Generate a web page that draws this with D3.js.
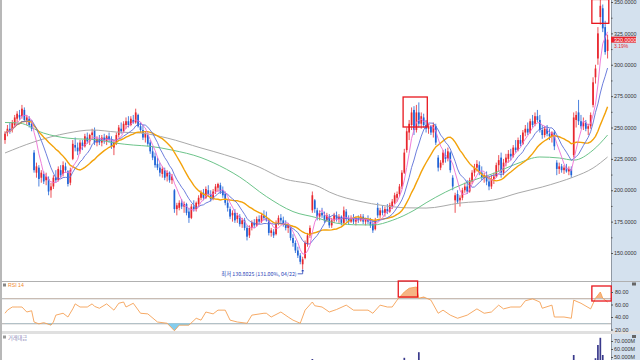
<!DOCTYPE html>
<html>
<head>
<meta charset="utf-8">
<script src="https://cdn.jsdelivr.net/npm/d3@7"></script>
<style>
body { margin: 0; background: #fff; }
svg { display: block; font-family: "Liberation Sans", "DejaVu Sans", sans-serif; }
</style>
</head>
<body>
<svg id="chart" width="640" height="360"></svg>
<script>
/**
 * Data
 */
// daily candles, oldest first: [open, high, low, close]
var candles = [
    [240,247,237,245],[246,252,243,249],[249,254,245,247],[248,256,246,254],[252,260,250,258],
    [257,263,254,261],[260,264,256,258],[259,268,257,265],[264,266,255,256],[256,260,252,258],
    [257,259,250,252],[253,256,247,249],[230,232,214,216],[214,222,210,219],[218,220,203,209],
    [210,216,206,214],[213,215,205,207],[208,214,204,211],[209,211,196,199],[200,206,194,203],
    [203,212,201,210],[210,216,206,208],[208,219,207,217],[216,220,210,212],[213,223,211,220],
    [219,222,214,216],[215,216,203,205],[206,218,204,216],[225,240,224,237],[236,242,231,234],
    [234,238,228,231],[231,240,229,238],[238,240,232,235],[235,245,234,243],[242,246,237,239],
    [239,245,236,244],[244,249,240,246],[248,250,236,238],[238,243,235,241],[241,244,236,238],
    [238,244,235,242],[242,245,237,239],[239,244,236,243],[243,246,238,240],[240,243,233,235],
    [234,240,228,238],[238,246,236,244],[244,252,242,250],[249,254,245,247],[247,255,246,253],
    [252,258,249,255],[255,259,250,252],[252,259,251,257],[256,260,253,254],[254,265,253,262],
    [260,261,250,251],[251,254,246,248],[248,252,240,242],[242,247,238,245],[244,246,235,237],
    [238,240,229,231],[231,235,224,226],[227,230,218,220],[221,226,216,218],[218,222,211,214],
    [213,219,210,217],[216,218,208,210],[211,216,207,214],[214,215,206,208],[208,213,205,211],
    [200,201,182,185],[185,190,180,188],[186,192,184,190],[190,193,185,187],[187,191,182,189],
    [189,190,180,182],[183,186,174,178],[178,189,177,187],[187,192,183,185],[185,191,183,190],
    [189,196,187,194],[194,200,192,198],[198,201,192,194],[194,203,193,201],[200,204,195,197],
    [197,200,191,193],[193,201,192,199],[199,205,197,203],[202,206,199,205],[204,206,197,199],
    [200,203,194,196],[197,199,188,190],[190,193,183,186],[185,187,177,179],[180,184,175,182],
    [182,185,174,176],[177,182,174,180],[179,181,171,173],[173,178,170,176],[176,178,168,170],
    [170,172,160,163],[164,172,162,170],[170,176,168,174],[174,177,170,172],[172,179,171,177],
    [177,180,173,175],[175,182,174,180],[180,184,176,178],[178,183,175,176],[176,178,164,166],
    [166,170,163,168],[167,169,162,164],[165,176,164,174],[174,180,172,178],[178,181,174,176],
    [176,179,171,173],[173,176,168,170],[170,174,166,172],[171,172,160,162],[162,165,155,158],
    [158,160,150,152],[152,155,146,148],[148,150,141,143],[141,147,137,145],[146,160,145,158],
    [157,166,155,164],[164,172,162,170],[184,199,182,196],[192,193,182,185],[184,186,176,179],
    [179,184,176,182],[182,186,178,180],[180,183,174,176],[176,182,175,180],[179,181,170,172],
    [172,178,170,176],[176,182,174,180],[180,183,175,177],[177,181,174,179],[179,180,172,174],
    [174,187,173,184],[183,185,175,177],[177,180,173,175],[175,180,174,178],[178,181,173,175],
    [175,179,172,177],[177,180,174,176],[176,181,175,179],[179,181,173,175],[175,178,172,177],
    [177,180,173,175],[175,178,170,172],[173,176,166,168],[169,178,168,176],[186,190,178,180],
    [180,186,178,184],[184,188,180,182],[182,187,179,185],[185,189,181,183],[183,190,182,188],
    [187,193,185,191],[190,198,189,196],[194,199,191,197],[197,205,195,203],[203,216,201,214],
    [214,233,213,230],[232,250,230,247],[246,256,240,253],[252,266,248,262],[264,267,244,248],
    [248,268,246,262],[262,270,250,253],[253,262,249,259],[258,261,250,252],[252,256,246,249],
    [249,253,245,251],[251,252,244,246],[246,254,242,252],[251,253,236,238],[226,228,215,218],
    [218,224,216,222],[222,232,220,230],[228,233,222,225],[225,234,223,231],[230,231,214,216],
    [210,212,200,203],[192,198,182,196],[197,200,189,191],[192,196,187,194],[194,202,192,200],
    [200,206,198,203],[203,208,197,199],[199,210,198,208],[207,216,205,214],[214,221,211,218],
    [218,224,215,221],[220,223,212,214],[214,219,208,210],[210,214,206,212],[212,215,204,207],
    [207,211,200,203],[203,212,201,209],[209,214,205,211],[211,222,210,220],[220,228,215,224],
    [226,230,210,214],[214,225,212,222],[222,229,219,226],[225,232,222,229],[229,233,224,227],
    [227,236,226,234],[234,240,230,232],[232,242,231,240],[240,244,235,237],[237,248,236,246],
    [246,252,243,249],[249,254,244,246],[246,257,245,255],[255,260,250,252],[253,262,251,259],
    [259,264,254,256],[256,260,246,248],[248,252,241,244],[244,251,242,249],[249,252,243,245],
    [245,249,240,243],[243,247,238,246],[246,248,232,235],[222,224,212,217],[217,222,213,219],
    [219,221,214,216],[216,220,213,218],[218,221,214,215],[215,219,212,217],[217,219,210,212],
    [228,262,226,258],[256,263,250,260],[262,272,252,255],[255,260,249,251],[251,258,248,254],
    [254,256,247,249],[249,253,244,251],[251,262,249,260],[268,290,266,286],[290,300,285,297],
    [305,330,300,325],[338,352,332,347],[345,348,326,329],[330,335,308,310.1],[311,324,305,320]
];

// trading value, millions
var volumes = [
    18,22,15,20,24,26,19,28,21,16, 14,17,38,25,22,18,15,17,24,20,
    16,14,19,13,17,12,18,15,32,21, 15,18,13,20,16,14,19,22,14,12,
    13,11,14,12,15,18,16,21,14,17, 15,13,16,12,24,19,14,17,12,15,
    18,16,20,14,17,13,15,12,14,11, 30,19,15,14,12,16,22,18,13,15,
    14,16,12,15,11,13,12,14,16,12, 13,15,17,20,14,16,12,15,11,14,
    21,16,13,12,15,11,14,12,10,16, 12,11,17,15,10,12,11,13,18,20,
    16,14,19,24,30,26,29,47.5,35,20, 16,14,12,15,13,11,14,10,12,11,
    22,15,11,12,10,13,11,12,10,11, 10,12,15,18,28,16,13,14,12,17,
    15,24,18,22,35,49,44,40,42,38, 30,56,28,22,18,16,14,19,21,33,
    18,22,16,19,24,28,36,20,15,17, 14,16,19,24,22,20,15,13,12,14,
    13,15,12,21,18,24,16,14,17,12, 15,13,18,14,22,20,15,24,19,23,
    18,16,14,12,11,13,12,17,30,15, 11,10,12,9,14,52.5,38,34,24,18,
    16,15,28,40,48.5,65,74,52.5,36,31
];

// long moving averages, read as [day, price]
var ma60Pts = [
    [0,254],[6,253.5],[16,245.5],[26,241.5],[39,240],[46,237.5],[53,236],[60,235],
    [69,232],[81,226],[86,222],[97,210.5],[108,195],[119,183],[129,178],[134,175],
    [144,172.5],[152,172.3],[160,176],[169,184],[174,190],[182,198.5],[190,205.5],
    [202,213.5],[212,221.5],[221,226.5],[229,225.7],[235,224],[243,232],[249,244]
];
var ma120Pts = [
    [0,229.7],[12,238.5],[26,245.6],[36,248],[46,246.4],[56,245.6],[67,241.6],
    [81,233.7],[86,231],[105,218.5],[114,210],[130,202.6],[134,198.6],[148,190.6],
    [155,188.2],[166,186],[174,185.8],[188,189.8],[202,192.3],[212,197.8],
    [222,202.6],[229,206.6],[235,210.6],[243,217.7],[249,226.5]
];

// RSI 14, read as [day, value]
var rsiPts = [
    [0,46],[1,51],[3,56],[5,56],[7,56],[9,48],[11,50],[12,32],[14,29],[16,31],
    [19,27],[20,32],[21,43],[24,46],[26,40],[28,53],[29,61],[31,56],[34,56],[36,61],
    [37,57],[39,54],[42,61],[45,51],[47,62],[49,64],[50,56],[53,62],[56,46],[59,45],
    [63,32],[67,30],[70,18],[72,27],[76,27],[79,38],[81,35],[83,48],[86,45],[88,51],
    [91,51],[93,35],[96,32],[100,30],[102,43],[107,46],[108,46],[110,40],[114,48],
    [117,40],[119,35],[122,30],[124,51],[127,64],[128,58],[131,56],[134,48],[137,52],
    [141,59],[144,51],[150,51],[152,46],[155,59],[158,56],[160,56],[162,67],[165,80],
    [167,86],[170,88],[171,70],[173,72],[176,67],[179,46],[181,51],[184,43],[187,38],
    [191,43],[195,53],[198,46],[201,48],[204,59],[206,53],[209,56],[213,56],[215,66],
    [218,69],[221,64],[222,54],[226,59],[227,40],[231,40],[234,38],[235,67],[238,62],
    [242,53],[244,70],[246,80],[247,70],[249,64]
];

var maPeriods = [5, 10, 20];
var maColors = ["#ec6fd4", "#5c6fd8", "#f3a20a"];

var priceTicks = [150, 175, 200, 225, 250, 275, 300, 325, 350];
var rsiTicks = [20, 40, 60, 80];
var rsiLevels = [30, 70];
var volTicks = [50, 60, 70];

// highlighted areas: [first day, last day, low, high]
var priceBoxes = [[165, 174, 250.4, 274.3], [243, 249, 333, 352]];
var rsiBoxes = [[163, 170, 72, 97.6], [243, 250, 65.6, 89.6]];

var lowNote = "최저 130.8025 (131.00%, 04/22)";
var rsiTitle = "RSI 14";
var volTitle = "거래대금";

/**
 * Layout
 */
var W = 640, H = 360;
var axisX = 611;
var mainBottom = 281;
var upColor = "#e8262d", downColor = "#1f63d6";

var svg = d3.select("#chart");
var N = candles.length;

var x = d3.scaleLinear().domain([-0.5, N - 0.5]).range([3.8, 608.8]);
var step = x(1) - x(0);
var yPrice = d3.scaleLinear().domain([150, 350]).range([253, 2]);
var yRsi = d3.scaleLinear().domain([20, 80]).range([329.5, 292]);
var yVol = d3.scaleLinear().domain([50, 70]).range([357, 341]);

var closes = candles.map(function(d) { return d[3]; });

// axis strip
svg.append("rect").attr("x", axisX).attr("y", 0)
    .attr("width", W - axisX).attr("height", H).attr("fill", "#d4e1ee");
svg.append("line").attr("x1", axisX + 0.5).attr("x2", axisX + 0.5)
    .attr("y1", 0).attr("y2", H).attr("stroke", "#8f98a3");
svg.append("rect").attr("x", 0).attr("y", 0).attr("width", 2).attr("height", H)
    .attr("fill", "#b8b8b8");

// panel separators
svg.append("line").attr("x1", 2).attr("x2", W).attr("y1", mainBottom + 0.5).attr("y2", mainBottom + 0.5)
    .attr("stroke", "#b0b0b0");
svg.append("rect").attr("x", 2).attr("y", 331).attr("width", W - 2).attr("height", 3)
    .attr("fill", "#e0e0e0");

// clip paths
var defs = svg.append("defs");
defs.append("clipPath").attr("id", "clipMain").append("rect")
    .attr("x", 2).attr("y", 0).attr("width", axisX - 2).attr("height", mainBottom);
defs.append("clipPath").attr("id", "clipHigh").append("rect")
    .attr("x", 2).attr("y", mainBottom).attr("width", axisX - 2).attr("height", yRsi(70) - mainBottom);
defs.append("clipPath").attr("id", "clipLow").append("rect")
    .attr("x", 2).attr("y", yRsi(30)).attr("width", axisX - 2).attr("height", 331 - yRsi(30));
defs.append("clipPath").attr("id", "clipVol").append("rect")
    .attr("x", 2).attr("y", 334).attr("width", axisX - 2).attr("height", H - 334);

/**
 * Price panel
 */
var gMain = svg.append("g").attr("clip-path", "url(#clipMain)");

var candleG = gMain.append("g").selectAll("g")
    .data(candles)
    .enter()
    .append("g");

candleG.append("line")
    .attr("x1", function(d, i) { return x(i); })
    .attr("x2", function(d, i) { return x(i); })
    .attr("y1", function(d) { return yPrice(d[1]); })
    .attr("y2", function(d) { return yPrice(d[2]); })
    .attr("stroke", function(d) { return d[3] >= d[0] ? upColor : downColor; })
    .attr("stroke-width", 0.8);

candleG.append("rect")
    .attr("x", function(d, i) { return x(i) - 0.85; })
    .attr("width", 1.7)
    .attr("y", function(d) { return yPrice(Math.max(d[0], d[3])); })
    .attr("height", function(d) { return Math.max(1, Math.abs(yPrice(d[0]) - yPrice(d[3]))); })
    .attr("fill", function(d) { return d[3] >= d[0] ? upColor : downColor; });

// long averages (read points)
var ptLine = d3.line()
    .curve(d3.curveMonotoneX)
    .x(function(d) { return x(d[0]); })
    .y(function(d) { return yPrice(d[1]); });

gMain.append("path").attr("d", ptLine(ma120Pts))
    .attr("fill", "none").attr("stroke", "#a9a9a9").attr("stroke-width", 1);
gMain.append("path").attr("d", ptLine(ma60Pts))
    .attr("fill", "none").attr("stroke", "#6cc48a").attr("stroke-width", 1);

// short averages computed from closes
var maLine = d3.line()
    .x(function(d, i) { return x(i); })
    .y(function(d) { return yPrice(d); });

maPeriods.slice().reverse().forEach(function(p, k) {
    var idx = maPeriods.length - 1 - k;
    var ma = closes.map(function(c, i) {
        return d3.mean(closes.slice(Math.max(0, i - p + 1), i + 1));
    });
    gMain.append("path").attr("d", maLine(ma))
        .attr("fill", "none")
        .attr("stroke", maColors[idx])
        .attr("stroke-width", p === 20 ? 1.4 : 0.9);
});

// highlight boxes
svg.append("g").selectAll("rect")
    .data(priceBoxes)
    .enter()
    .append("rect")
    .attr("x", function(d) { return x(d[0]) - step / 2; })
    .attr("y", function(d) { return yPrice(d[3]); })
    .attr("width", function(d) { return x(d[1]) - x(d[0]) + step; })
    .attr("height", function(d) { return yPrice(d[2]) - yPrice(d[3]); })
    .attr("fill", "none").attr("stroke", "#e8161d").attr("stroke-width", 1.3);

// lowest price note
var lowIdx = d3.minIndex(candles, function(d) { return d[2]; });
var lx = x(lowIdx), ly = yPrice(candles[lowIdx][2]);
svg.append("text")
    .attr("x", lx - 6).attr("y", ly + 6.5)
    .attr("text-anchor", "end")
    .attr("font-size", 5.3)
    .attr("font-family", "'Noto Sans CJK KR', sans-serif")
    .attr("fill", "#2a45b8")
    .text(lowNote);
svg.append("path")
    .attr("d", "M" + (lx - 5) + "," + (ly + 4.5) + "H" + lx + "V" + (ly + 1.5))
    .attr("fill", "none").attr("stroke", "#2a45b8").attr("stroke-width", 0.8);
svg.append("path")
    .attr("d", "M" + (lx - 1.5) + "," + (ly + 2) + "L" + lx + "," + ly + "L" + (lx + 1.5) + "," + (ly + 2) + "Z")
    .attr("fill", "#2a45b8");

// price axis
var priceAxis = d3.axisRight(yPrice)
    .tickValues(priceTicks)
    .tickSize(2).tickSizeOuter(0).tickPadding(1)
    .tickFormat(d3.format(".4f"));
var gPA = svg.append("g").attr("transform", "translate(" + axisX + ",0)").call(priceAxis);
gPA.select(".domain").remove();
gPA.selectAll("line").attr("stroke", "#555");
gPA.selectAll("text").attr("font-size", 5.4).attr("fill", "#333");

var minorAxis = d3.axisRight(yPrice)
    .tickValues(priceTicks.slice(0, -1).map(function(d) { return d + 12.5; }))
    .tickSize(1.5).tickSizeOuter(0).tickFormat("");
var gMinor = svg.append("g").attr("transform", "translate(" + axisX + ",0)").call(minorAxis);
gMinor.select(".domain").remove();
gMinor.selectAll("line").attr("stroke", "#555");

// last price tag
var last = closes[N - 1], prev = closes[N - 2];
svg.append("rect").attr("x", axisX).attr("y", yPrice(last) - 3)
    .attr("width", 25).attr("height", 6).attr("fill", "#e8262d");
svg.append("text").attr("x", axisX + 3).attr("y", yPrice(last) + 1.9)
    .attr("font-size", 5.4).attr("fill", "#fff")
    .text(d3.format(".4f")(last));
svg.append("text").attr("x", axisX + 3).attr("y", yPrice(last) + 8)
    .attr("font-size", 5).attr("fill", "#e8262d")
    .text(d3.format(".2f")((last / prev - 1) * 100) + "%");

/**
 * RSI panel
 */
svg.append("rect").attr("x", 3).attr("y", 283.5).attr("width", 3).attr("height", 3).attr("fill", "#888");
svg.append("text").attr("x", 8).attr("y", 287)
    .attr("font-size", 5.2).attr("fill", "#f08a30").text(rsiTitle);

svg.append("g").selectAll("line")
    .data(rsiLevels)
    .enter()
    .append("line")
    .attr("x1", 2).attr("x2", axisX)
    .attr("y1", function(d) { return yRsi(d) + 0.5; })
    .attr("y2", function(d) { return yRsi(d) + 0.5; })
    .attr("stroke", "#a8a8a8");

var rsiLine = d3.line()
    .x(function(d) { return x(d[0]); })
    .y(function(d) { return yRsi(d[1]); });

svg.append("path")
    .attr("d", d3.area()
        .x(function(d) { return x(d[0]); })
        .y0(yRsi(70))
        .y1(function(d) { return yRsi(d[1]); })(rsiPts))
    .attr("clip-path", "url(#clipHigh)")
    .attr("fill", "#f6b584");
svg.append("path")
    .attr("d", d3.area()
        .x(function(d) { return x(d[0]); })
        .y0(yRsi(30))
        .y1(function(d) { return yRsi(d[1]); })(rsiPts))
    .attr("clip-path", "url(#clipLow)")
    .attr("fill", "#84cdee");

svg.append("path").attr("d", rsiLine(rsiPts))
    .attr("fill", "none").attr("stroke", "#f5a055").attr("stroke-width", 0.9);

svg.append("g").selectAll("rect")
    .data(rsiBoxes)
    .enter()
    .append("rect")
    .attr("x", function(d) { return x(d[0]) - step / 2; })
    .attr("y", function(d) { return yRsi(d[3]); })
    .attr("width", function(d) { return x(d[1]) - x(d[0]) + step; })
    .attr("height", function(d) { return yRsi(d[2]) - yRsi(d[3]); })
    .attr("fill", "none").attr("stroke", "#e8161d").attr("stroke-width", 1.3);

var rsiAxis = d3.axisRight(yRsi)
    .tickValues(rsiTicks)
    .tickSize(2).tickSizeOuter(0).tickPadding(2)
    .tickFormat(d3.format(".2f"));
var gRA = svg.append("g").attr("transform", "translate(" + axisX + ",0)").call(rsiAxis);
gRA.select(".domain").remove();
gRA.selectAll("line").attr("stroke", "#555");
gRA.selectAll("text").attr("font-size", 5.4).attr("fill", "#333");

svg.append("rect").attr("x", 632).attr("y", 282.5).attr("width", 4).attr("height", 3).attr("fill", "#666");

/**
 * Volume panel
 */
svg.append("rect").attr("x", 3).attr("y", 335.5).attr("width", 3).attr("height", 3).attr("fill", "#999");
svg.append("text").attr("x", 8).attr("y", 339.5)
    .attr("font-size", 5.2)
    .attr("font-family", "'Noto Sans CJK KR', sans-serif")
    .attr("fill", "#8484b4").text(volTitle);

svg.append("g").attr("clip-path", "url(#clipVol)")
    .selectAll("rect")
    .data(volumes)
    .enter()
    .append("rect")
    .attr("x", function(d, i) { return x(i) - 0.85; })
    .attr("width", 1.7)
    .attr("y", function(d) { return yVol(d); })
    .attr("height", function(d) { return Math.max(0, yVol(0) - yVol(d)); })
    .attr("fill", "#3a3a8c");

var volAxis = d3.axisRight(yVol)
    .tickValues(volTicks)
    .tickSize(2).tickSizeOuter(0).tickPadding(1)
    .tickFormat(function(d) { return d3.format(".3f")(d) + "M"; });
var gVA = svg.append("g").attr("transform", "translate(" + axisX + ",0)").call(volAxis);
gVA.select(".domain").remove();
gVA.selectAll("line").attr("stroke", "#555");
gVA.selectAll("text").attr("font-size", 5.4).attr("fill", "#333");

svg.append("rect").attr("x", 632).attr("y", 335).attr("width", 4).attr("height", 3).attr("fill", "#666");
</script>
</body>
</html>
